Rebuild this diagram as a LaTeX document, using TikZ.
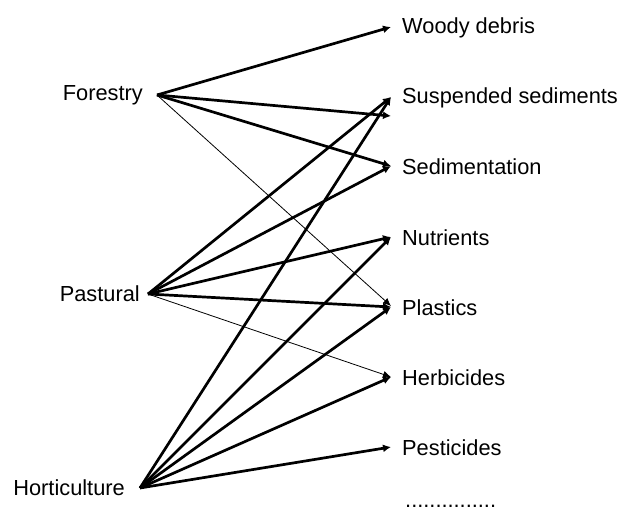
\documentclass[tikz,border=0pt]{standalone}
\usepackage{fontspec}
\setmainfont{Liberation Sans}
\usetikzlibrary{arrows.meta}
\begin{document}
\begin{tikzpicture}[x=1pt,y=-1pt,
  lbl/.style={font=\fontsize{21.8}{26}\selectfont, inner ysep=0pt},
  src/.style={lbl, anchor=east},
  tgt/.style={lbl, anchor=west, inner xsep=11pt},
  link/.style={line width=2.7pt, -{Latex[length=8pt,width=8pt]}},
  weak/.style={line width=0.8pt, -{Latex[length=8pt,width=7pt]}}]
\useasboundingbox (0,0) rectangle (622,511);
% sources
\node[src, inner xsep=14pt] (fo) at (157,95) {Forestry};
\node[src, inner xsep=8pt]  (pa) at (148,294) {Pastural};
\node[src, inner xsep=15pt] (ho) at (140,488) {Horticulture};
% targets
\node[tgt] (wd) at (391,28)  {Woody debris};
\node[tgt] (ss) at (391,98)  {Suspended sediments};
\node[tgt] (se) at (391,167) {Sedimentation};
\node[tgt] (nu) at (391,238) {Nutrients};
\node[tgt] (pl) at (391,308) {Plastics};
\node[tgt] (he) at (391,378) {Herbicides};
\node[tgt] (pe) at (391,448) {Pesticides};
\node[lbl, anchor=base west, inner xsep=0pt, text depth=0pt, text height=3pt] (more) at (405,507) {...............};
% Forestry
\draw[link] (fo.east) -- ([yshift=1pt]wd.west);
\draw[link] (fo.east) -- ([yshift=-18pt]ss.west);
\draw[link] (fo.east) -- ([yshift=1pt]se.west);
\draw[weak] (fo.east) -- ([yshift=2pt]pl.west);
% Pastural
\draw[link] (pa.east) -- ([yshift=1pt]ss.west);
\draw[link] (pa.east) -- ([yshift=1pt]se.west);
\draw[link] (pa.east) -- ([yshift=1pt]nu.west);
\draw[link] (pa.east) -- ([yshift=1pt]pl.west);
\draw[weak] (pa.east) -- ([yshift=1pt]he.west);
% Horticulture
\draw[link] (ho.east) -- ([yshift=1pt]ss.west);
\draw[link] (ho.east) -- ([yshift=1pt]nu.west);
\draw[link] (ho.east) -- ([yshift=1pt]pl.west);
\draw[link] (ho.east) -- ([yshift=1pt]he.west);
\draw[link] (ho.east) -- ([yshift=1pt]pe.west);
\end{tikzpicture}
\end{document}
